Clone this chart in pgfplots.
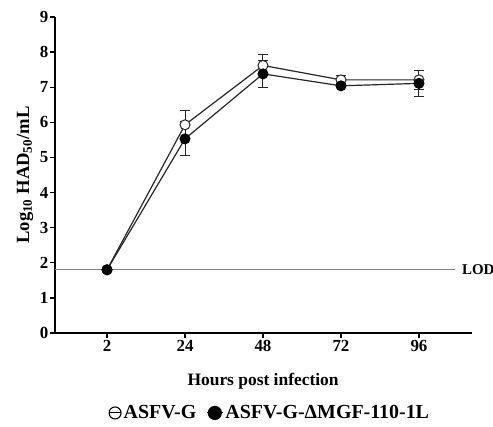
\documentclass[border=0pt]{standalone}
\usepackage{pgfplots}
\pgfplotsset{compat=1.18}
\usepackage{fontspec}
\setmainfont{Liberation Serif}
\pgfplotstableread{
x y e
0 1.80 0
1 5.93 0.40
2 7.62 0.30
3 7.21 0.12
4 7.21 0.28
}\wt
\pgfplotstableread{
x y e
0 1.80 0
1 5.53 0.48
2 7.38 0.39
3 7.04 0.06
4 7.11 0.38
}\mut
\begin{document}
\begin{tikzpicture}
\begin{axis}[
  at={(0,0)}, anchor=south west,
  scale only axis, width=417bp, height=316bp,
  xmin=-0.667, xmax=4.68, ymin=0, ymax=9,
  axis lines=left,
  axis line style={line width=1.6bp, -},
  tick align=outside, major tick length=5bp,
  tick style={line width=1.4bp, black},
  xtick={0,1,2,3,4}, xticklabels={2,24,48,72,96},
  ytick={0,1,...,9},
  /pgf/number format/assume math mode=true,
  ticklabel style={font=\fontsize{17}{17}\selectfont\bfseries},
  xticklabel style={inner sep=2bp},
  yticklabel style={inner sep=1.5bp},
  xlabel={Hours post infection},
  xlabel style={font=\fontsize{17.5}{17.5}\selectfont\bfseries, at={(axis description cs:0.499,-0.152)}, anchor=center},
  ylabel={Log\textsubscript{10} HAD\textsubscript{50}/mL},
  ylabel style={font=\fontsize{18.7}{18.7}\selectfont\bfseries, at={(axis description cs:-0.072,0.5)}, anchor=center},
  clip=false,
  legend columns=2,
  legend style={draw=none, at={(axis description cs:0.515,-0.253)}, anchor=center,
    font=\fontsize{20}{20}\selectfont\bfseries,
    /tikz/every even column/.append style={column sep=8bp}},
]
\addplot[gray, line width=0.9bp, forget plot] coordinates {(-0.667,1.8) (4.46,1.8)};
\node[anchor=west, font=\fontsize{15}{15}\selectfont\bfseries, inner sep=0pt] at (axis cs:4.55,1.8) {LOD};
\addplot[black!85, line width=1.2bp, mark=*, mark size=5bp, mark options={fill=white, draw=black!85, line width=1bp},
  legend image code/.code={\draw[black, line width=1.1bp, fill=none] (0bp,0bp) circle (6bp); \draw[black, line width=1.1bp] (-6bp,0bp) -- (6bp,0bp);},
  error bars/.cd, y dir=both, y explicit,
  error mark options={rotate=90, mark size=5bp, line width=1bp, black!85},
  error bar style={line width=1bp, black!85}]
  table[x=x, y=y, y error=e] {\wt};
\addlegendentry{ASFV-G}
\addplot[black!85, line width=1.2bp, mark=*, mark size=5bp, mark options={fill=black, draw=black, line width=1bp},
  legend image code/.code={\draw[black, line width=1.1bp] (-8bp,0bp) -- (8bp,0bp); \fill[black] (0bp,0bp) circle (6.5bp);},
  error bars/.cd, y dir=both, y explicit,
  error mark options={rotate=90, mark size=5bp, line width=1bp, black!85},
  error bar style={line width=1bp, black!85}]
  table[x=x, y=y, y error=e] {\mut};
\addlegendentry{ASFV-G-ΔMGF-110-1L}
\end{axis}
\pgfresetboundingbox
\path[use as bounding box] (-55bp,-94bp) rectangle (438bp,333bp);
\end{tikzpicture}
\end{document}
